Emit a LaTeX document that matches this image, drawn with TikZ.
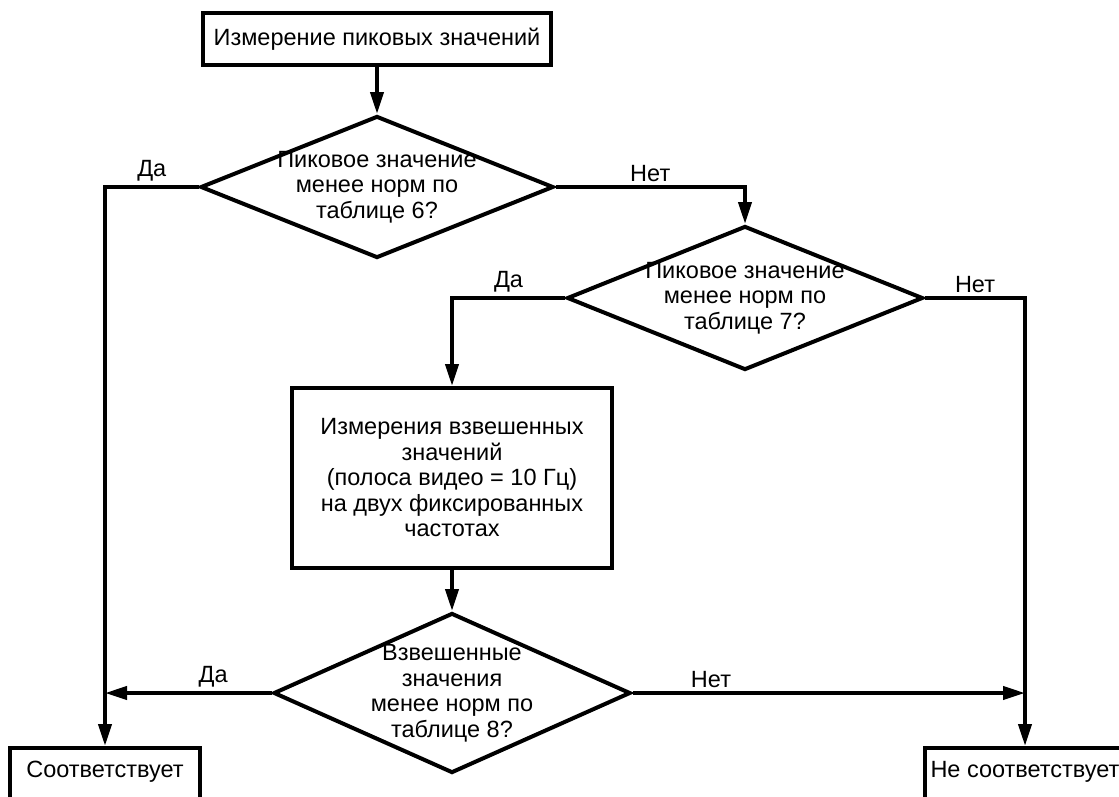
\documentclass[tikz,border=0pt]{standalone}
\usepackage{fontspec}
\setmainfont{Liberation Sans}
\usetikzlibrary{shapes.geometric,arrows.meta}
\begin{document}
\begin{tikzpicture}[x=1pt,y=-1pt,line width=4pt,
    every node/.style={font=\fontsize{23.5}{25.5}\selectfont,align=center},
    blok/.style={draw,rectangle,inner sep=3pt},
    vopros/.style={draw,diamond,aspect=2.5,inner sep=-10pt},
    strelka/.style={-{Triangle[length=22pt,width=13pt]}}]
  \useasboundingbox (0,0) rectangle (1119,796);
  \node[blok,minimum width=348,minimum height=52] (start) at (377,39) {Измерение пиковых значений};
  \node[vopros,minimum width=353,minimum height=142] (d1) at (377,187)
    {Пиковое значение\\менее норм по\\таблице 6?};
  \node[vopros,minimum width=356,minimum height=144] (d2) at (745,298)
    {Пиковое значение\\менее норм по\\таблице 7?};
  \node[blok,minimum width=320,minimum height=180] (izm) at (452,478)
    {Измерения взвешенных\\значений\\(полоса видео = 10 Гц)\\на двух фиксированных\\частотах};
  \node[vopros,minimum width=357,minimum height=160] (d3) at (452,693)
    {Взвешенные\\значения\\менее норм по\\таблице 8?};
  \node[blok,anchor=north,minimum width=190,text height=26,text depth=30] (da) at (105,746) {Соответствует};
  \node[blok,anchor=north,minimum width=200,text height=26,text depth=30] (net) at (1025,746) {Не соответствует};
  \coordinate (t1) at (da.north |- d3.west);
  \coordinate (t2) at (net.north |- d3.east);
  % connectors
  \draw[strelka] (start) -- (d1);
  \draw[strelka] (d1.west) -| node[pos=0.25,above]{Да} (da.north);
  \draw[strelka] (d1.east) -| node[pos=0.25,above]{Нет} (d2.north);
  \draw[strelka] (d2.west) -| node[pos=0.25,above]{Да} (izm.north);
  \draw[strelka] (d2.east) -| node[pos=0.25,above]{Нет} (net.north);
  \draw[strelka] (izm) -- (d3);
  \draw[strelka] (d3.west) -- node[pos=0.35,above]{Да} (t1);
  \draw[strelka] (d3.east) -- node[pos=0.2,above]{Нет} (t2);
\end{tikzpicture}
\end{document}
